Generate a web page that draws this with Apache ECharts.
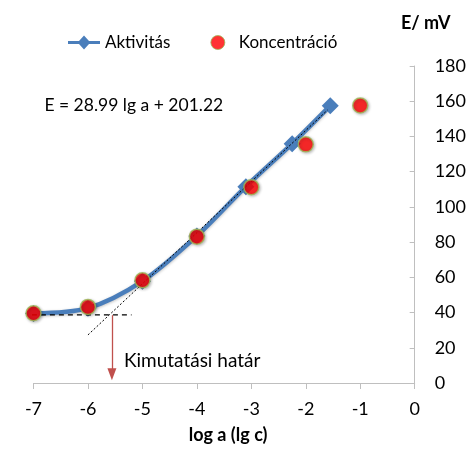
<!DOCTYPE html>
<html>
<head>
<meta charset="utf-8">
<script src="https://cdn.jsdelivr.net/npm/echarts@6/dist/echarts.min.js"></script>
<style>html,body{margin:0;padding:0;background:#fff}#c{width:469px;height:449px}</style>
</head>
<body>
<div id="c"></div>
<script>
// Data
const xTicks = [-7, -6, -5, -4, -3, -2, -1, 0];
const yTicks = [0, 20, 40, 60, 80, 100, 120, 140, 160, 180];
const aktivitasX = [-7, -6, -5, -4, -3.1, -2.25, -1.55];
const aktivitasY = [39.5, 42.5, 57.8, 83.5, 111.5, 135.9, 157.5];
const koncX = [-7, -6, -5, -4, -3, -2, -1];
const koncY = [39.6, 43.2, 58.3, 83.1, 111.2, 135.5, 157.6];
const tangentX = [-6, -1.6];
const tangentY = [27.3, 155.0];
const baselineX = [-7.36, -5.2];
const baselineY = [38.7, 38.7];
const limitX = -5.56;
const arrowY = [38.5, 5.0];
const equationText = 'E = 28.99 lg a + 201.22';
const limitText = 'Kimutatási határ';
const eqPos = [-6.8, 157.5];
const limitPos = [-5.34, 12.4];

const FONT = 'Lato';
const pairs = (xs, ys) => xs.map((x, i) => [x, ys[i]]);

const chart = echarts.init(document.getElementById('c'), null, {renderer: 'canvas'});
chart.setOption({
  animation: false,
  backgroundColor: '#fff',
  textStyle: {fontFamily: FONT},
  grid: {left: 33.5, right: 51, top: 66, bottom: 56.5},
  legend: {
    left: 63, top: 29,
    itemWidth: 32, itemHeight: 14, itemGap: 40,
    textStyle: {fontFamily: FONT, fontSize: 17, color: '#000'},
    data: [
      {name: 'Aktivitás', icon: 'path://M0,5.5 L11,5.5 L16,0 L21,5.5 L32,5.5 L32,8.5 L21,8.5 L16,14 L11,8.5 L0,8.5 Z', itemStyle: {color: '#4a7ebb'}},
      {name: 'Koncentráció', icon: 'circle', itemStyle: {color: '#ff0000', borderColor: '#9bbb59', borderWidth: 1}}
    ]
  },
  xAxis: {
    type: 'value', min: -7, max: 0, interval: 1,
    name: 'log a (lg c)', nameLocation: 'middle', nameGap: 43,
    nameTextStyle: {fontFamily: FONT, fontSize: 18, fontWeight: 'bold', color: '#000', padding: [0, 0, 0, 8]},
    axisLine: {onZero: false, lineStyle: {color: '#bfbfbf', width: 1}},
    axisTick: {show: true, length: 6, lineStyle: {color: '#bfbfbf'}},
    axisLabel: {fontFamily: FONT, fontSize: 18, color: '#000', margin: 17,
      formatter: v => xTicks.includes(v) ? String(v) : ''},
    splitLine: {show: false}
  },
  yAxis: {
    type: 'value', position: 'right', min: 0, max: 180, interval: 20,
    name: 'E/ mV', nameLocation: 'end', nameGap: 34,
    nameTextStyle: {fontFamily: FONT, fontSize: 18, fontWeight: 'bold', color: '#000', align: 'center', padding: [0, 0, 0, 22]},
    axisLine: {show: true, lineStyle: {color: '#bfbfbf', width: 1}},
    axisTick: {show: true, inside: true, length: 5, lineStyle: {color: '#bfbfbf'}},
    axisLabel: {fontFamily: FONT, fontSize: 18, color: '#000', margin: 20,
      formatter: v => yTicks.includes(v) ? String(v) : ''},
    splitLine: {show: false}
  },
  series: [
    {
      name: 'tangent', type: 'line', data: pairs(tangentX, tangentY),
      symbol: 'none', z: 4, silent: true, clip: false,
      lineStyle: {color: '#000', width: 1, type: [2, 2]}
    },
    {
      name: 'Aktivitás', type: 'line', smooth: 0.3,
      data: pairs(aktivitasX, aktivitasY),
      symbol: 'diamond', symbolSize: 17, z: 3,
      itemStyle: {color: '#4a7ebb'},
      lineStyle: {color: '#4a7ebb', width: 4.5, shadowColor: 'rgba(0,0,0,0.25)', shadowBlur: 3, shadowOffsetY: 1}
    },
    {
      name: 'baseline', type: 'line', data: pairs(baselineX, baselineY),
      symbol: 'none', z: 4, silent: true, clip: false,
      lineStyle: {color: '#000', width: 1.3, type: [5, 4]},
      markLine: {
        silent: true, symbol: ['none', 'triangle'], symbolSize: [9, 12],
        lineStyle: {color: '#c0504d', width: 1.3, type: 'solid'},
        label: {show: false},
        data: [[{coord: [limitX, arrowY[0]]}, {coord: [limitX, arrowY[1]]}]]
      },
      markPoint: {
        silent: true, symbol: 'circle', symbolSize: 0,
        data: [
          {coord: eqPos, label: {show: true, position: 'right', distance: 0, formatter: equationText,
            fontFamily: FONT, fontSize: 17.5, color: '#000'}},
          {coord: limitPos, label: {show: true, position: 'right', distance: 0, formatter: limitText,
            fontFamily: FONT, fontSize: 19, color: '#000'}}
        ]
      }
    },
    {
      name: 'Koncentráció', type: 'scatter', data: pairs(koncX, koncY),
      symbol: 'circle', symbolSize: 15, z: 5,
      itemStyle: {color: '#ff0000', borderColor: '#9bbb59', borderWidth: 1.5,
        shadowColor: 'rgba(0,0,0,0.3)', shadowBlur: 3, shadowOffsetX: 1, shadowOffsetY: 1}
    }
  ]
});
</script>
</body>
</html>
